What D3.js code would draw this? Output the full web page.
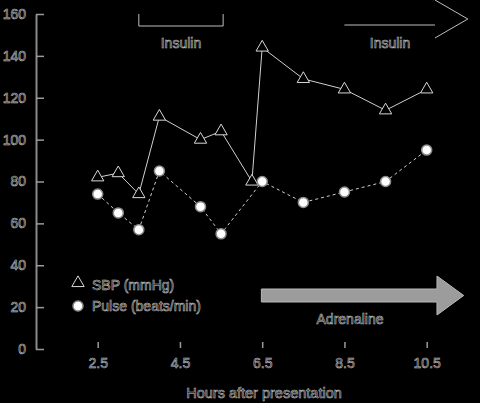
<!DOCTYPE html>
<html>
<head>
<meta charset="utf-8">
<script src="https://cdn.jsdelivr.net/npm/d3@7"></script>
<style>
  body { margin: 0; background: #000; }
  text { font-family: "Liberation Sans", Arial, sans-serif; font-size: 14px; fill: #111; stroke: #c4c4c4; stroke-width: 0.55px; }
</style>
</head>
<body>
<div id="chart"></div>
<script>
// data
var sbpHours = [2.5, 3.0, 3.5, 4.0, 5.0, 5.5, 6.25, 6.5, 7.5, 8.5, 9.5, 10.5];
var sbpValues = [82, 84, 74, 111, 100, 104, 80, 144, 129, 124, 114, 124];
var pulseHours = [2.5, 3.0, 3.5, 4.0, 5.0, 5.5, 6.5, 7.5, 8.5, 9.5, 10.5];
var pulseValues = [74, 65, 57, 85, 68, 55, 80, 70, 75, 80, 95];
var xTicks = [2.5, 4.5, 6.5, 8.5, 10.5];
var yTicks = [0, 20, 40, 60, 80, 100, 120, 140, 160];
var insulinBracket = [3.5, 5.55];   // hours
var insulinArrow = [8.5, 10.7, 11.5];
var adrenalineArrow = [6.48, 10.75, 11.4];

var width = 480, height = 403;

var svg = d3.select("#chart").append("svg")
	.attr("width", width)
	.attr("height", height);

svg.append("rect")
	.attr("width", width)
	.attr("height", height)
	.attr("fill", "#000");

var x = d3.scaleLinear().domain([2.5, 10.5]).range([97.7, 426.7]);
var y = d3.scaleLinear().domain([0, 160]).range([349, 14]);

// y axis
var yAxis = svg.append("g")
	.attr("transform", "translate(36,0)")
	.call(d3.axisLeft(y).tickValues(yTicks).tickSizeInner(-8).tickSizeOuter(0).tickPadding(10));
yAxis.select(".domain").attr("stroke", "#8a8a8a").attr("stroke-width", 2);
yAxis.selectAll(".tick line").attr("stroke", "#9a9a9a").attr("stroke-width", 1.5);
yAxis.selectAll("text").attr("font-size", 14).attr("fill", null).attr("font-family", null);

// x axis, ticks only
var xAxis = svg.append("g")
	.attr("transform", "translate(0,342)")
	.call(d3.axisBottom(x).tickValues(xTicks).tickSize(6).tickPadding(10).tickFormat(d3.format(".1f")));
xAxis.select(".domain").remove();
xAxis.selectAll(".tick line").attr("stroke", "#9a9a9a").attr("stroke-width", 1.5);
xAxis.selectAll("text").attr("font-size", 14).attr("fill", null).attr("font-family", null);

svg.append("text")
	.attr("x", 264)
	.attr("y", 398)
	.attr("text-anchor", "middle")
	.style("font-size", "14.5px")
	.text("Hours after presentation");

// insulin annotations
svg.append("path")
	.attr("d", "M" + x(insulinBracket[0]) + ",14V26H" + x(insulinBracket[1]) + "V14")
	.attr("fill", "none")
	.attr("stroke", "#bdbdbd")
	.attr("stroke-width", 1);
svg.append("text")
	.attr("x", (x(insulinBracket[0]) + x(insulinBracket[1])) / 2)
	.attr("y", 48)
	.attr("text-anchor", "middle")
	.text("Insulin");

svg.append("line")
	.attr("x1", x(insulinArrow[0])).attr("x2", x(insulinArrow[1]))
	.attr("y1", 25).attr("y2", 25)
	.attr("stroke", "#bdbdbd");
svg.append("path")
	.attr("d", "M" + x(insulinArrow[1]) + ",0L" + x(insulinArrow[2]) + ",19L" + x(insulinArrow[1]) + ",38")
	.attr("fill", "none")
	.attr("stroke", "#bdbdbd");
svg.append("text")
	.attr("x", 390)
	.attr("y", 48)
	.attr("text-anchor", "middle")
	.text("Insulin");

// adrenaline arrow
var ax0 = x(adrenalineArrow[0]), ax1 = x(adrenalineArrow[1]), ax2 = x(adrenalineArrow[2]);
svg.append("path")
	.attr("d", "M" + ax0 + ",289H" + ax1 + "V276L" + ax2 + ",295.5L" + ax1 + ",315V302H" + ax0 + "Z")
	.attr("fill", "#9c9c9c")
	.attr("stroke", "#b8b8b8")
	.attr("stroke-width", 1);
svg.append("text")
	.attr("x", 350)
	.attr("y", 324)
	.attr("text-anchor", "middle")
	.text("Adrenaline");

// series
var sbp = sbpHours.map(function(h, i) { return {h: h, v: sbpValues[i]}; });
var pulse = pulseHours.map(function(h, i) { return {h: h, v: pulseValues[i]}; });

var line = d3.line()
	.x(function(d) { return x(d.h); })
	.y(function(d) { return y(d.v); });

svg.append("path")
	.datum(sbp)
	.attr("d", line)
	.attr("fill", "none")
	.attr("stroke", "#d0d0d0")
	.attr("stroke-width", 1);

svg.append("path")
	.datum(pulse)
	.attr("d", line)
	.attr("fill", "none")
	.attr("stroke", "#d0d0d0")
	.attr("stroke-width", 1)
	.attr("stroke-dasharray", "3,3");

var tri = d3.symbol().type(d3.symbolTriangle).size(66);

svg.append("g").selectAll("path")
	.data(sbp)
	.enter().append("path")
	.attr("d", tri)
	.attr("transform", function(d) { return "translate(" + x(d.h) + "," + y(d.v) + ")"; })
	.attr("fill", "#000")
	.attr("stroke", "#d8d8d8")
	.attr("stroke-width", 1);

svg.append("g").selectAll("circle")
	.data(pulse)
	.enter().append("circle")
	.attr("cx", function(d) { return x(d.h); })
	.attr("cy", function(d) { return y(d.v); })
	.attr("r", 5)
	.attr("fill", "#fff")
	.attr("stroke", "#8c8c8c")
	.attr("stroke-width", 1.5);

// legend
var legend = svg.append("g");
legend.append("path")
	.attr("d", tri)
	.attr("transform", "translate(78,283)")
	.attr("fill", "#000")
	.attr("stroke", "#d8d8d8");
legend.append("text").attr("x", 92).attr("y", 290).text("SBP (mmHg)");
legend.append("circle")
	.attr("cx", 78).attr("cy", 306).attr("r", 5)
	.attr("fill", "#fff").attr("stroke", "#8c8c8c").attr("stroke-width", 1.5);
legend.append("text").attr("x", 92).attr("y", 311).text("Pulse (beats/min)");
</script>
</body>
</html>
